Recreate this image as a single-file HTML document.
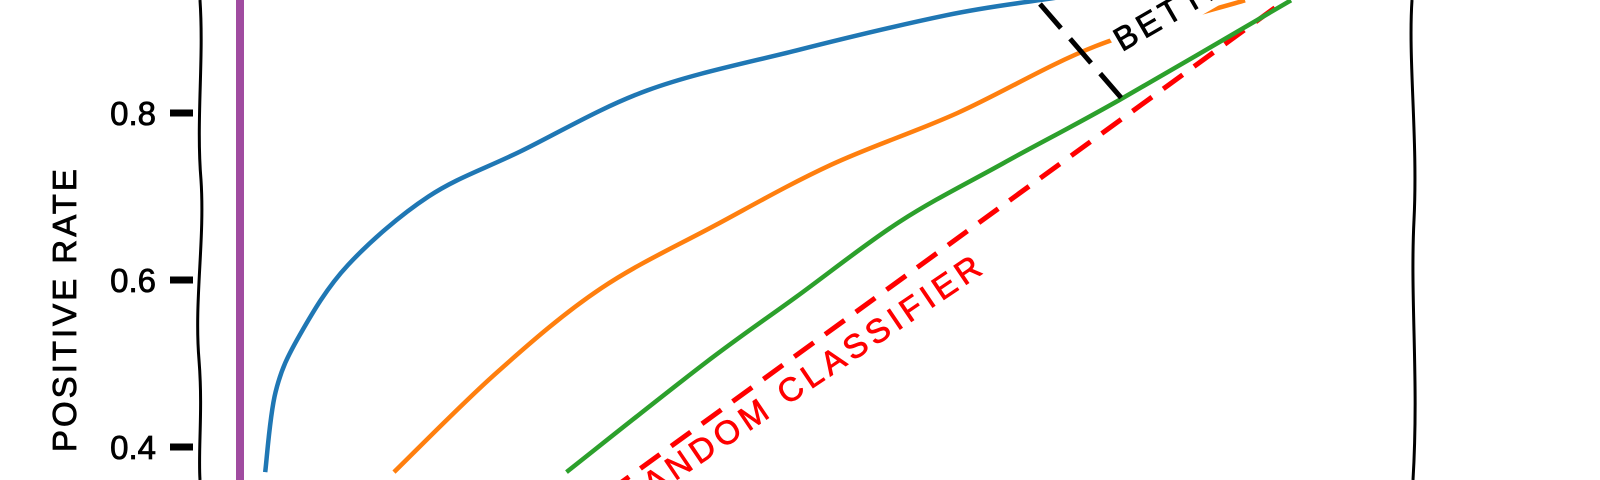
<!DOCTYPE html>
<html><head><meta charset="utf-8"><style>
html,body{margin:0;padding:0;background:#fff;width:1600px;height:480px;overflow:hidden;}
svg{display:block;font-family:"Liberation Sans",sans-serif;}
</style></head><body>
<svg id="chart" width="1600" height="480" viewBox="0 0 1600 480">
<rect width="1600" height="480" fill="#fff"/>
<path d="M200,0 C204,60 196,120 201,180 C205,240 194,300 199,360 C203,410 198,450 200,480" fill="none" stroke="#000" stroke-width="3"/>
<path d="M1412,0 C1408,60 1418,140 1414,220 C1410,300 1419,380 1413,480" fill="none" stroke="#000" stroke-width="3"/>
<g id="yticks"></g>
<text transform="translate(76,452) rotate(-90)" style="font-size:33px" stroke="#000" stroke-width="0.8" letter-spacing="3">POSITIVE RATE</text>
<line x1="240" y1="0" x2="240" y2="480" stroke="#a04ca0" stroke-width="8"/>
<g id="series"></g>
<text transform="translate(988,270) rotate(-34)" text-anchor="end" style="font-size:33px" fill="#ff0000" stroke="#ff0000" stroke-width="0.8" letter-spacing="5">RANDOM CLASSIFIER</text>
<line x1="1040" y1="4" x2="1130" y2="108" stroke="#000" stroke-width="5" stroke-dasharray="32,14"/>
<g transform="translate(1122,52) rotate(-30)">
<rect x="-4" y="-30" width="140" height="38" fill="#fff"/>
<text x="0" y="0" style="font-size:33px" stroke="#000" stroke-width="0.8" letter-spacing="4">BETTER</text>
</g>
</svg>
<script>
const yTicks=[0.4,0.6,0.8];
const yTickLabels=["0.4","0.6","0.8"];
const blueX=[0.048,0.057,0.078,0.12,0.19,0.27,0.38,0.51,0.64,0.72,0.8];
const blueY=[0.37,0.466,0.534,0.618,0.70,0.754,0.827,0.875,0.917,0.935,0.95];
const orangeX=[0.16,0.25,0.34,0.44,0.54,0.65,0.77,0.9];
const orangeY=[0.37,0.49,0.59,0.666,0.738,0.80,0.88,0.935];
const greenX=[0.31,0.43,0.51,0.6,0.69,0.79,0.94];
const greenY=[0.37,0.50,0.58,0.67,0.74,0.815,0.935];
const randomX=[0,1];
const randomY=[0,1];
const xs=v=>210+1150*v;
const ys=v=>781-835*v;
const NS="http://www.w3.org/2000/svg";
const yt=document.getElementById('yticks');
yTicks.forEach((t,i)=>{
  const l=document.createElementNS(NS,'line');
  l.setAttribute('x1',170);l.setAttribute('x2',193);
  l.setAttribute('y1',ys(t));l.setAttribute('y2',ys(t));
  l.setAttribute('stroke','#000');l.setAttribute('stroke-width',7);
  
  
  yt.appendChild(l);
  const tx=document.createElementNS(NS,'text');
  tx.setAttribute('x',156);tx.setAttribute('y',ys(t)+12);
  tx.setAttribute('text-anchor','end');tx.setAttribute('style','font-size:33px');
  tx.setAttribute('stroke','#000');tx.setAttribute('stroke-width','0.8');
  tx.textContent=yTickLabels[i];
  
  
  yt.appendChild(tx);
});
const sg=document.getElementById('series');
function line(X,Y,color,name,dash){
  const p=document.createElementNS(NS,'path');
  const P=X.map((x,i)=>[xs(x),ys(Y[i])]);
  let d='M'+P[0][0].toFixed(1)+','+P[0][1].toFixed(1);
  for(let i=0;i<P.length-1;i++){
    const p0=P[Math.max(0,i-1)],p1=P[i],p2=P[i+1],p3=P[Math.min(P.length-1,i+2)];
    const c1=[p1[0]+(p2[0]-p0[0])/6,p1[1]+(p2[1]-p0[1])/6];
    const c2=[p2[0]-(p3[0]-p1[0])/6,p2[1]-(p3[1]-p1[1])/6];
    d+='C'+c1.map(v=>v.toFixed(1)).join(',')+' '+c2.map(v=>v.toFixed(1)).join(',')+' '+p2[0].toFixed(1)+','+p2[1].toFixed(1);
  }
  p.setAttribute('d',d);p.setAttribute('fill','none');
  p.setAttribute('stroke',color);p.setAttribute('stroke-width',dash?5:4.5);
  p.setAttribute('stroke-linejoin','round');
  if(dash)p.setAttribute('stroke-dasharray','24,14');
  
  
  sg.appendChild(p);
}
line(randomX,randomY,'#ff0000','random-classifier-line',true);
line(greenX,greenY,'#2ca02c','green-roc-curve');
line(orangeX,orangeY,'#ff7f0e','orange-roc-curve');
line(blueX,blueY,'#1f77b4','blue-roc-curve');
</script>
</body></html>
